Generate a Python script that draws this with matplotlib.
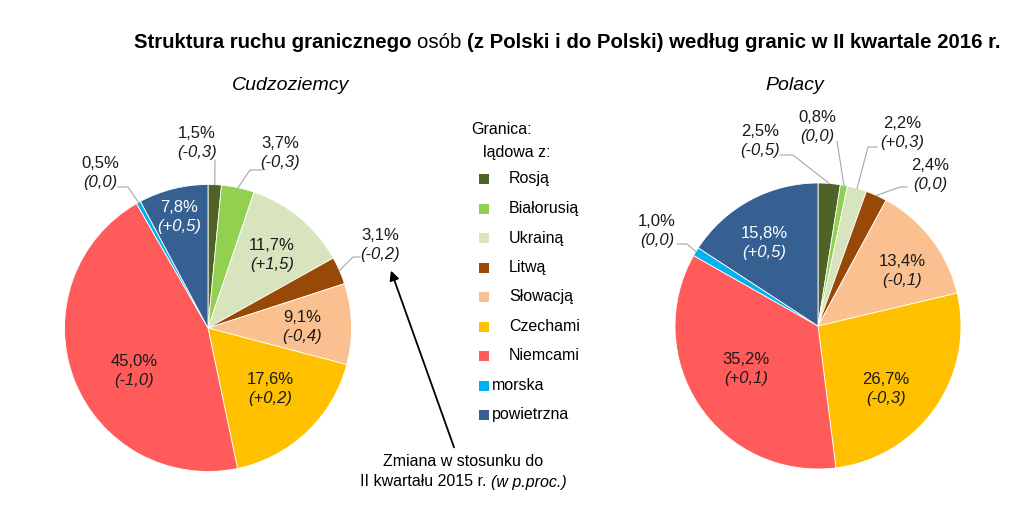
import numpy as np
import matplotlib.pyplot as plt

plt.rcParams['font.family'] = ['Liberation Sans', 'DejaVu Sans']

# dane: struktura ruchu granicznego (udzial w %, zmiana w p.proc.)
kategorie = ['Rosją', 'Białorusią', 'Ukrainą', 'Litwą', 'Słowacją',
             'Czechami', 'Niemcami', 'morska', 'powietrzna']
kolory = ['#4f6228', '#92d050', '#d7e4bd', '#984807', '#fac090',
          '#ffc000', '#ff5b5b', '#00b0f0', '#366092']

cudzoziemcy_udzial = [1.5, 3.7, 11.7, 3.1, 9.1, 17.6, 45.0, 0.5, 7.8]
cudzoziemcy_zmiana = [-0.3, -0.3, 1.5, -0.2, -0.4, 0.2, -1.0, 0.0, 0.5]
polacy_udzial = [2.5, 0.8, 2.2, 2.4, 13.4, 26.7, 35.2, 1.0, 15.8]
polacy_zmiana = [-0.5, 0.0, 0.3, 0.0, -0.1, -0.3, 0.1, 0.0, 0.5]

W, H = 1024, 519
def Y(y):
    return H - y

def fmt_udzial(v):
    return f'{v:.1f}%'.replace('.', ',')

def fmt_zmiana(v):
    if v == 0:
        return '(0,0)'
    return f'({v:+.1f})'.replace('.', ',')

fig = plt.figure(figsize=(W / 100, H / 100), dpi=100)
ax = fig.add_axes([0, 0, 1, 1])

# uklad etykiet: indeks -> (x, y, poczatek linii, zalamanie)
left_out = {0: ((197, 133), (215, 160), None),
            1: ((280, 143), (262, 170), (250, 170)),
            3: ((380, 235), (360, 257), (353, 257)),
            7: ((100, 163), (118, 187), (128, 187))}
left_in = {2: (272, 245), 4: (302, 318), 5: (270, 380), 6: (134, 362), 8: (179, 207)}
right_out = {0: ((760, 132), (780, 155), (793, 155)),
             1: ((817, 118), (837, 141), None),
             2: ((902, 123), (877, 147), (868, 147)),
             3: ((930, 165), (907, 187), (900, 187)),
             7: ((657, 221), (677, 244), (687, 244))}
right_in = {4: (902, 262), 5: (886, 380), 6: (746, 360), 8: (764, 233)}

pies = [
    (cudzoziemcy_udzial, cudzoziemcy_zmiana, (208, 328), 143.5, left_out, left_in, 'Cudzoziemcy', 291),
    (polacy_udzial, polacy_zmiana, (818, 326), 143, right_out, right_in, 'Polacy', 795),
]

for udzial, zmiana, (cx, cy), r, outside, inside, nazwa, tx in pies:
    wedges, _ = ax.pie(udzial, colors=kolory, startangle=90, counterclock=False,
                       center=(cx, Y(cy)), radius=r,
                       wedgeprops=dict(edgecolor='white', linewidth=0.6))
    ax.text(tx, Y(86), nazwa, fontsize=14, style='italic', ha='center', va='center')

    for i, (x, y) in inside.items():
        c = 'white' if i == 8 else '#1a1a1a'
        ax.text(x, Y(y), fmt_udzial(udzial[i]), fontsize=12, color=c, ha='center', va='center')
        ax.text(x, Y(y + 19), fmt_zmiana(zmiana[i]), fontsize=12, color=c,
                style='italic', ha='center', va='center')

    for i, ((x, y), start, elbow) in outside.items():
        ax.text(x, Y(y), fmt_udzial(udzial[i]), fontsize=12, color='#1a1a1a', ha='center', va='center')
        ax.text(x, Y(y + 19), fmt_zmiana(zmiana[i]), fontsize=12, color='#1a1a1a',
                style='italic', ha='center', va='center')
        w = wedges[i]
        ang = np.deg2rad((w.theta1 + w.theta2) / 2)
        end = (cx + r * np.cos(ang), Y(cy) + r * np.sin(ang))
        pts = [start] + ([elbow] if elbow else [])
        xs = [p[0] for p in pts] + [end[0]]
        ys = [Y(p[1]) for p in pts] + [end[1]]
        ax.plot(xs, ys, color='#a6a6a6', lw=0.8)

# legenda
ax.text(471, Y(129), 'Granica:', fontsize=11.5, ha='left', va='center')
ax.text(483, Y(152), 'lądowa z:', fontsize=11.5, ha='left', va='center')
for i, (kat, kol) in enumerate(zip(kategorie, kolory)):
    yy = 179 + i * 29.5
    ax.scatter([484], [Y(yy)], marker='s', s=45, color=kol, linewidths=0)
    tx = 509 if i < 7 else 492
    ax.text(tx, Y(yy), kat, fontsize=11.5, ha='left', va='center')

# strzalka i opis zmiany
ax.annotate('', xy=(390, Y(268)), xytext=(455, Y(450)),
            arrowprops=dict(arrowstyle='-|>', color='black', lw=1.3, mutation_scale=14))
ax.text(463, Y(462), 'Zmiana w stosunku do', fontsize=11.5, ha='center', va='center')

ax.set_xlim(0, W)
ax.set_ylim(0, H)
ax.set_aspect('equal')
ax.axis('off')

renderer = fig.canvas.get_renderer()

def mixed_line(parts, xc, y, fontsize):
    texts = []
    for s, kw in parts:
        texts.append(ax.text(0, Y(y), s, fontsize=fontsize, ha='left', va='center', **kw))
    widths = []
    for t in texts:
        bb = t.get_window_extent(renderer)
        widths.append(bb.width)
    total = sum(widths)
    x = xc - total / 2
    for t, wd in zip(texts, widths):
        t.set_x(x)
        x += wd

mixed_line([('II kwartału 2015 r. ', {}), ('(w p.proc.)', {'style': 'italic'})], 463, 482, 11.5)
mixed_line([('Struktura ruchu granicznego ', {'weight': 'bold'}),
            ('osób ', {}),
            ('(z Polski i do Polski) według granic w II kwartale 2016 r.', {'weight': 'bold'})],
           567, 42, 14.7)

fig.savefig('out.png', dpi=100)
